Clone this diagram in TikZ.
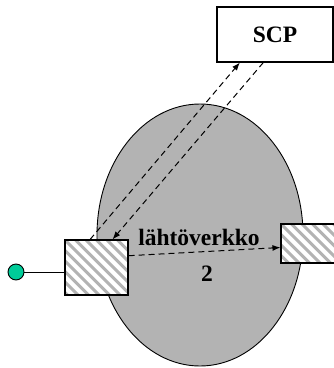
\documentclass[tikz,border=0pt]{standalone}
\usepackage{fontspec}
\setmainfont{Liberation Serif}
\usetikzlibrary{arrows.meta, calc, positioning, shapes.geometric}
\definecolor{color1}{RGB}{0,204,153}
\definecolor{color2}{RGB}{179,179,179}

\begin{document}
\begin{tikzpicture}
        [
        x=1pt, y=-1pt,
            verkko/.style={
                ellipse,
                draw,
                line width=0.9pt,
                fill=color2,
                inner sep=0pt,
                minimum width=206pt,
                minimum height=262pt
            },
            caja/.style={
                rectangle,
                draw,
                line width=1.1pt,
                fill=white,
                inner sep=0pt,
                font=\fontsize{23.5}{28}\selectfont\bfseries
            },
            cajaRayada/.style={
                caja,
                path picture={
                    \foreach \k in {-12,...,12}
                        \draw[color2, line width=3pt]
                            ($(path picture bounding box.north west)+(\k*10.5pt,0pt)$) -- ++(90pt,-90pt);
                }
            },
            terminal/.style={
                circle,
                draw,
                line width=0.9pt,
                fill=color1,
                inner sep=0pt,
                minimum size=16pt
            },
            etiqueta/.style={
                inner sep=0pt,
                font=\fontsize{23.5}{28}\selectfont\bfseries
            },
            flechaDiscontinua/.style={
                -{Latex[length=8pt,width=6pt]},
                line width=1pt,
                dash pattern=on 6pt off 4pt
            },
            conexion/.style={
                line width=1pt
            }
        ]
        \useasboundingbox (0,0) rectangle (334,368);
        \clip (0,0) rectangle (334,368);

        \node(lahtoverkko) [verkko] at (200,235) {};
        \node(scp) [caja, minimum width=116pt, minimum height=55pt] at (275,34.5) {SCP};
        \node(lahde) [cajaRayada, minimum width=63pt, minimum height=55pt] at (96.5,267.5) {};
        \node(kohde) [cajaRayada, minimum width=63pt, minimum height=39pt] at (312.5,243.5) {};
        \node(terminaali) [terminal] at (16,272) {};
        \node(nimi) [etiqueta] at (199,237) {lähtöverkko};
        \node(numero) [etiqueta] at (207,274) {2};

        \draw[flechaDiscontinua] ($(lahde.north west)!0.4!(lahde.north east)$) -- ($(scp.south west)!0.2!(scp.south east)$);
        \draw[flechaDiscontinua] ($(scp.south west)!0.4!(scp.south east)$) -- ($(lahde.north west)!0.75!(lahde.north east)$);
        \draw[flechaDiscontinua] ($(lahde.north east)!0.29!(lahde.south east)$) -- ($(kohde.north west)!0.6!(kohde.south west)$);
        \draw[conexion] (terminaali) -- (terminaali -| lahde.west);
    \end{tikzpicture}
\end{document}
